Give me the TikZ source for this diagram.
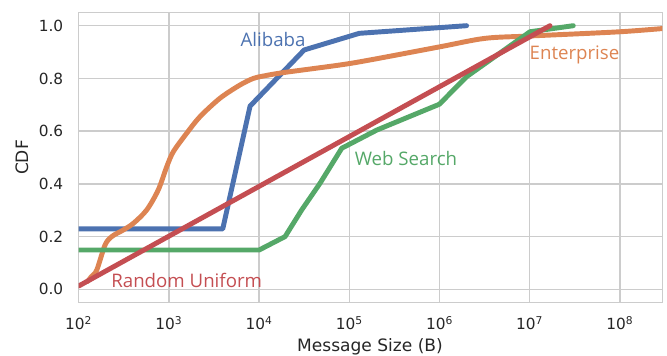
\documentclass[tikz,border=0pt]{standalone}
\usepackage{fontspec}
\setmainfont{DejaVu Sans}
\newfontfamily\lblfont{Open Sans}
\definecolor{sbblue}{HTML}{4C72B0}
\definecolor{sborange}{HTML}{DD8452}
\definecolor{sbgreen}{HTML}{55A868}
\definecolor{sbred}{HTML}{C44E52}
\definecolor{gridgray}{HTML}{CCCCCC}
\definecolor{txt}{HTML}{262626}
\begin{document}
\begin{tikzpicture}[x=0.75pt,y=-0.75pt,
  curve/.style={line width=3.7pt, line join=round, line cap=round},
  gridline/.style={draw=gridgray, line width=1.1pt},
  ticklbl/.style={font=\fontsize{11.5}{13}\selectfont, text=txt, inner sep=0pt},
  axlbl/.style={font=\fontsize{12.8}{14}\selectfont, text=txt, inner sep=0pt},
  serieslbl/.style={font=\lblfont\fontsize{14}{16}\selectfont, inner sep=0pt}]
\useasboundingbox (0,0) rectangle (667,356);
\begin{scope}[shift={(78.7,289.3)}, x=67.65pt, y=197.7pt]
  % grid
  \foreach \i in {0,...,6} \draw[gridline] (\i,-0.051) -- (\i,1.051);
  \foreach \j in {0,...,5} \draw[gridline] (0,0.2*\j) -- (6.47,0.2*\j);
  \draw[gridline] (0,-0.051) rectangle (6.47,1.051);
  % tick labels
  \foreach \i/\e in {0/2,1/3,2/4,3/5,4/6,5/7,6/8}
    \node[ticklbl, anchor=base] (xt\e) at (\i,-0.154) {10\textsuperscript{\e}};
  \foreach \j/\t in {0/0.0,1/0.2,2/0.4,3/0.6,4/0.8,5/1.0}
    \node[ticklbl, anchor=east] (yt\j) at (-0.1685,0.2*\j) {\t};
  % curves
  \begin{scope}
    \clip (0,-0.051) rectangle (6.47,1.051);
    \draw[curve, sbblue] (0,0.229) -- (1.597,0.229) -- (1.90,0.695) -- (2.50,0.908) -- (3.11,0.971) -- (4.30,1.0);
    \draw[curve, sborange] plot[smooth, tension=0.5] coordinates {
      (0.10,0.030) (0.14,0.048) (0.200,0.073) (0.292,0.168) (0.366,0.200) (0.494,0.225)
      (0.605,0.250) (0.754,0.301) (0.882,0.377) (0.976,0.465) (1.049,0.522) (1.197,0.592)
      (1.345,0.655) (1.567,0.725) (1.788,0.775) (1.936,0.800) (2.047,0.809) (2.268,0.822)
      (2.897,0.851) (3.229,0.870) (4.005,0.920) (4.504,0.952) (5.003,0.961) (6.001,0.977) (6.60,0.993)};
    \draw[curve, sbgreen] (0,0.149) -- (2.0,0.149) -- (2.288,0.200) -- (2.472,0.301) -- (2.675,0.402)
      -- (2.916,0.535) -- (3.304,0.604) -- (3.998,0.702) -- (4.302,0.807) -- (5.003,0.977) -- (5.483,1.0);
    \draw[curve, sbred] (0,0.0125) -- (5.225,1.0);
  \end{scope}
\end{scope}
% axis labels
\node[axlbl, anchor=base] (xlab) at (370,351) {Message Size (B)};
\node[axlbl, rotate=90] (ylab) at (22,157.5) {CDF};
% series labels
\node[serieslbl, text=sbblue] (lali) at (273,40) {Alibaba};
\node[serieslbl, text=sborange] (lent) at (574.5,55) {Enterprise};
\node[serieslbl, text=sbgreen] (lweb) at (406,159) {Web Search};
\node[serieslbl, text=sbred] (lran) at (186.7,280) {Random Uniform};
\end{tikzpicture}
\end{document}
